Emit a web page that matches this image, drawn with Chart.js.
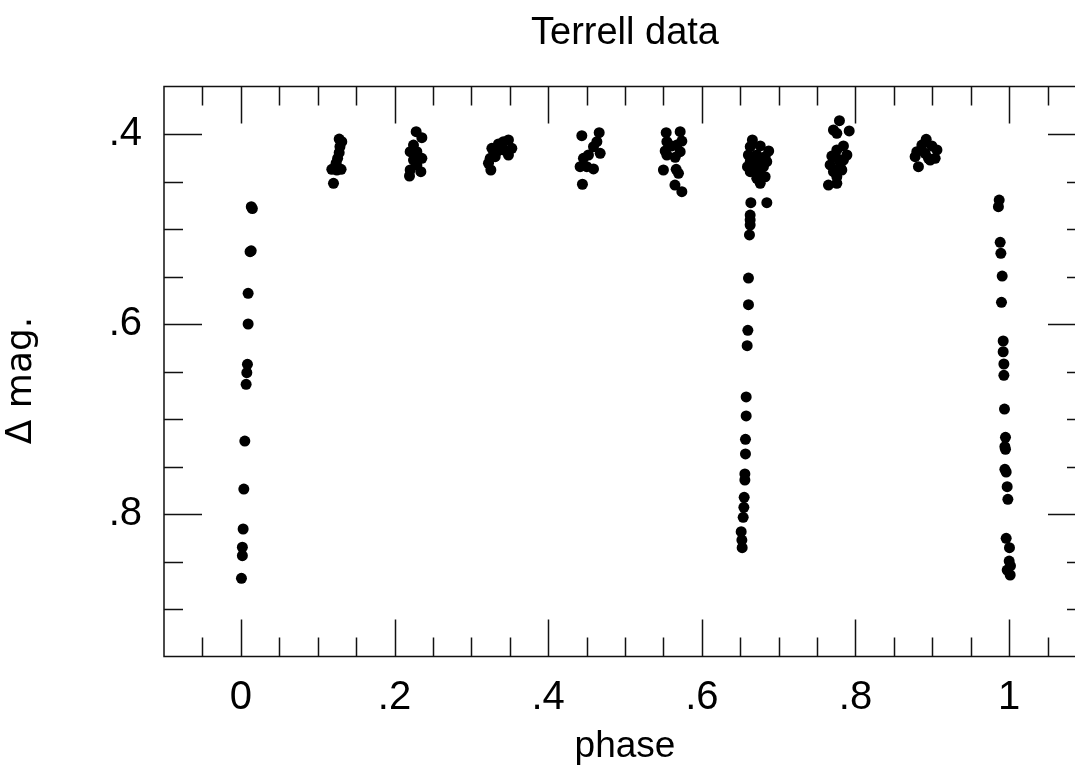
<!DOCTYPE html>
<html>
<head>
<meta charset="utf-8">
<title>Terrell data</title>
<script src="https://cdn.jsdelivr.net/npm/chart.js@4/dist/chart.umd.min.js"></script>
<style>
    html, body { margin: 0; padding: 0; background: #fff; overflow: hidden; }
    #chart { display: block; }
</style>
</head>
<body>
<canvas id="chart" width="1100" height="771"></canvas>
<script>
// Terrell data - light curve (phase vs delta mag)

// Eclipse at phase 0
const eclipse0Phase = [0.0136, 0.0150, 0.0120, 0.0135, 0.0095, 0.0095, 0.0086, 0.0078, 0.0069, 0.0052, 0.0039, 0.0030, 0.0020, 0.0020, 0.0008];
const eclipse0Mag   = [0.4765, 0.4785, 0.5239, 0.5230, 0.5677, 0.6000, 0.6424, 0.6513, 0.6635, 0.7232, 0.7737, 0.8158, 0.8350, 0.8439, 0.8677];

// Out of eclipse
const plateauPhase = [
    0.128, 0.1314, 0.129, 0.128, 0.126, 0.124, 0.1184, 0.125, 0.1305, 0.1206,
    0.2282, 0.2356, 0.2247, 0.2204, 0.2291, 0.2356, 0.2247, 0.2291, 0.2204, 0.2195, 0.2343,
    0.3483, 0.3418, 0.3353, 0.3527, 0.3267, 0.3332, 0.3418, 0.3483, 0.3245, 0.331, 0.3223, 0.3254,
    0.4438, 0.4664, 0.4634, 0.459, 0.4677, 0.4524, 0.4459, 0.4416, 0.4503, 0.459, 0.4446,
    0.5536, 0.5718, 0.574, 0.5545, 0.5675, 0.561, 0.5523, 0.5718, 0.5545, 0.5653, 0.55, 0.5666, 0.5696, 0.565, 0.574,
    0.6658, 0.663, 0.676, 0.687, 0.6606, 0.6715, 0.6824, 0.663, 0.6737, 0.6845, 0.6594, 0.6707, 0.6802, 0.663, 0.676, 0.6824, 0.6715, 0.676, 0.6638, 0.6846,
    0.7791, 0.7713, 0.7918, 0.7757, 0.7843, 0.7757, 0.7888, 0.7692, 0.7779, 0.7843, 0.767, 0.78, 0.7713, 0.7822, 0.7757, 0.7648, 0.7757,
    0.892, 0.8864, 0.8994, 0.8798, 0.8907, 0.906, 0.8776, 0.895, 0.9037, 0.8972, 0.8819
];
const plateauMag = [
    0.4053, 0.4081, 0.4134, 0.4197, 0.4256, 0.4308, 0.4372, 0.4379, 0.4372, 0.4519,
    0.3976, 0.4039, 0.4116, 0.4186, 0.4186, 0.4256, 0.4274, 0.4326, 0.4379, 0.4442, 0.4397,
    0.4063, 0.4081, 0.4105, 0.4151, 0.4151, 0.4186, 0.4168, 0.4221, 0.4256, 0.4239, 0.4308, 0.4379,
    0.4018, 0.3986, 0.4081, 0.4134, 0.4203, 0.4221, 0.4256, 0.4344, 0.4344, 0.4368, 0.4529,
    0.3986, 0.3976, 0.4074, 0.4081, 0.4116, 0.4126, 0.4179, 0.4186, 0.4221, 0.4246, 0.4379, 0.4372, 0.4414, 0.4537, 0.4607,
    0.4063, 0.4134, 0.4126, 0.4179, 0.4221, 0.4221, 0.4239, 0.4291, 0.4274, 0.4291, 0.4344, 0.436, 0.4344, 0.4397, 0.4414, 0.445, 0.4466, 0.4519, 0.4723, 0.4723,
    0.386, 0.3958, 0.3968, 0.3993, 0.4126, 0.4168, 0.4221, 0.4232, 0.4266, 0.4274, 0.4326, 0.4344, 0.4397, 0.4379, 0.445, 0.4537, 0.4519,
    0.4056, 0.4116, 0.4126, 0.4186, 0.4203, 0.4168, 0.4239, 0.4256, 0.4256, 0.4274, 0.4344
];

// Eclipse near phase .66
const eclipse2Phase = [0.6629, 0.6629, 0.6629, 0.662, 0.6607, 0.6607, 0.6599, 0.659, 0.6577, 0.6577, 0.6568, 0.6568, 0.656, 0.656, 0.6551, 0.6547, 0.6538, 0.6512, 0.6521, 0.6525];
const eclipse2Mag   = [0.4853, 0.4905, 0.4958, 0.5063, 0.5516, 0.5797, 0.6066, 0.6228, 0.6768, 0.6968, 0.7214, 0.7368, 0.7579, 0.7642, 0.7824, 0.793, 0.8035, 0.8186, 0.8274, 0.8355];

// Eclipse at phase 1
const eclipse1Phase = [0.987, 0.986, 0.9883, 0.9892, 0.9909, 0.99, 0.9922, 0.9922, 0.9931, 0.9931, 0.9939, 0.9952, 0.9944, 0.9952, 0.9944, 0.9961, 0.9974, 0.9983, 0.9961, 1.0004, 1.0, 1.0017, 0.9974, 1.0013];
const eclipse1Mag   = [0.4695, 0.4765, 0.514, 0.5256, 0.5495, 0.5772, 0.6179, 0.6292, 0.6421, 0.654, 0.6895, 0.7193, 0.7292, 0.7319, 0.753, 0.7558, 0.7713, 0.7845, 0.8256, 0.8355, 0.8495, 0.8545, 0.859, 0.8642];

// Assi
const xLabelTicks = [0, 0.2, 0.4, 0.6, 0.8, 1];
const xMinorTicks = [-0.05, 0.05, 0.1, 0.15, 0.25, 0.3, 0.35, 0.45, 0.5, 0.55, 0.65, 0.7, 0.75, 0.85, 0.9, 0.95, 1.05];
const yLabelTicks = [0.4, 0.6, 0.8];
const yMinorTicks = [0.45, 0.5, 0.55, 0.65, 0.7, 0.75, 0.85, 0.9];

function toPoints(xs, ys) {
    return xs.map((x, i) => ({ x: x, y: ys[i] }));
}

function formatTick(v) {
    const r = Math.round(v * 10) / 10;
    if (r === 0) return '0';
    if (r === 1) return '1';
    return r.toFixed(1).replace(/^0/, '');
}

// Cornice e tacche interne su tutti i lati
const frameTicks = {
    id: 'frameTicks',
    afterDatasetsDraw(chart) {
        const { ctx, chartArea: a, scales } = chart;
        const xs = scales.x, ys = scales.y;
        ctx.save();
        ctx.strokeStyle = '#111';
        ctx.lineWidth = 1.5;
        ctx.strokeRect(a.left, a.top, a.right - a.left, a.bottom - a.top);
        ctx.beginPath();
        const xt = (v, len) => {
            const px = Math.round(xs.getPixelForValue(v)) + 0.5;
            ctx.moveTo(px, a.bottom); ctx.lineTo(px, a.bottom - len);
            ctx.moveTo(px, a.top); ctx.lineTo(px, a.top + len);
        };
        const yt = (v, len) => {
            const py = Math.round(ys.getPixelForValue(v)) + 0.5;
            ctx.moveTo(a.left, py); ctx.lineTo(a.left + len, py);
            ctx.moveTo(a.right, py); ctx.lineTo(a.right - len, py);
        };
        xLabelTicks.forEach(v => xt(v, 37));
        xMinorTicks.forEach(v => xt(v, 19));
        yLabelTicks.forEach(v => yt(v, 38));
        yMinorTicks.forEach(v => yt(v, 19));
        ctx.stroke();
        ctx.restore();
    }
};

const ctx = document.getElementById('chart').getContext('2d');

new Chart(ctx, {
    type: 'scatter',
    data: {
        datasets: [{
            label: 'Terrell',
            data: [
                ...toPoints(eclipse0Phase, eclipse0Mag),
                ...toPoints(plateauPhase, plateauMag),
                ...toPoints(eclipse2Phase, eclipse2Mag),
                ...toPoints(eclipse1Phase, eclipse1Mag)
            ],
            backgroundColor: '#000',
            borderWidth: 0,
            pointRadius: 5.5,
            pointHoverRadius: 5.5
        }]
    },
    options: {
        responsive: false,
        devicePixelRatio: 1,
        animation: false,
        layout: { padding: { left: 0, right: 14, top: 0, bottom: 0 } },
        plugins: {
            legend: { display: false },
            tooltip: { enabled: false },
            title: { display: false }
        },
        scales: {
            x: {
                type: 'linear',
                position: 'bottom',
                min: -0.1,
                max: 1.1,
                afterBuildTicks: (scale) => { scale.ticks = xLabelTicks.map(v => ({ value: v })); },
                afterFit: (scale) => { scale.height = 114.5; },
                grid: { display: false },
                border: { display: false },
                ticks: {
                    autoSkip: false,
                    maxRotation: 0,
                    padding: 9,
                    color: '#000',
                    font: { family: '"Liberation Sans", Arial, sans-serif', size: 40 },
                    callback: (v) => formatTick(v)
                },
                title: {
                    display: true,
                    text: 'phase',
                    color: '#000',
                    font: { family: '"Liberation Sans", Arial, sans-serif', size: 37 },
                    padding: { top: 0, bottom: 2 }
                }
            },
            x2: {
                type: 'linear',
                position: 'top',
                min: -0.1,
                max: 1.1,
                afterFit: (scale) => { scale.height = 86.5; },
                grid: { display: false },
                border: { display: false },
                ticks: { display: false },
                title: {
                    display: true,
                    text: 'Terrell data',
                    color: '#000',
                    font: { family: '"Liberation Sans", Arial, sans-serif', size: 38 },
                    padding: { top: 11, bottom: 0 }
                }
            },
            y: {
                type: 'linear',
                position: 'left',
                reverse: true,
                min: 0.35,
                max: 0.95,
                afterBuildTicks: (scale) => { scale.ticks = yLabelTicks.map(v => ({ value: v })); },
                afterFit: (scale) => { scale.width = 164; },
                grid: { display: false },
                border: { display: false },
                ticks: {
                    padding: 14,
                    color: '#000',
                    font: { family: '"Liberation Sans", Arial, sans-serif', size: 40 },
                    callback: (v) => formatTick(v)
                },
                title: {
                    display: true,
                    text: 'Δ mag.\u2002',
                    color: '#000',
                    font: { family: '"DejaVu Sans", sans-serif', size: 36 },
                    padding: { top: 0, bottom: 0, left: 16, right: 0 }
                }
            }
        }
    },
    plugins: [frameTicks]
});
</script>
</body>
</html>
